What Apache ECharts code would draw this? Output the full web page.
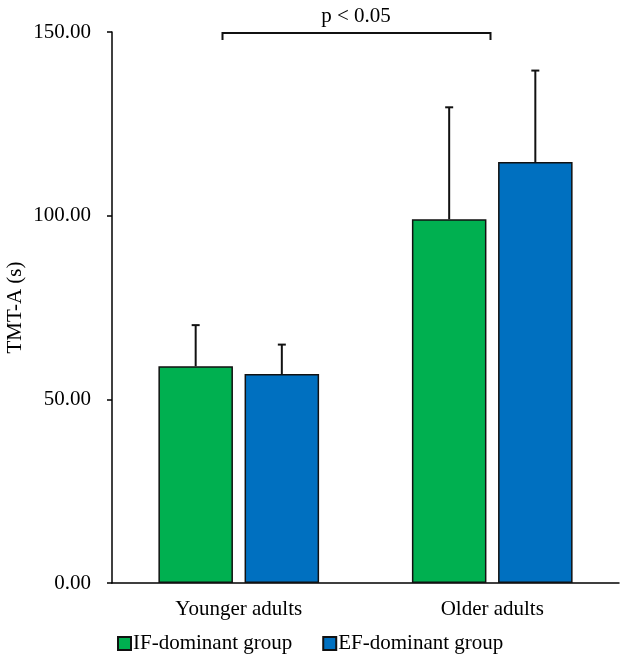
<!DOCTYPE html>
<html>
<head>
<meta charset="utf-8">
<script src="https://cdn.jsdelivr.net/npm/echarts@6/dist/echarts.min.js"></script>
<style>
  html, body { margin: 0; padding: 0; background: #fff; }
  #chart { width: 624px; height: 661px; }
</style>
</head>
<body>
<div id="chart"></div>
<script>
var categories = ['Younger adults', 'Older adults'];
var groupNames = ['IF-dominant group', 'EF-dominant group'];
var ifMeans = [59.0, 99.0];
var ifSD = [11.2, 30.5];
var efMeans = [56.9, 114.6];
var efSD = [8.0, 24.9];
var yTicks = [0, 50, 100, 150];

var fontFamily = '"Liberation Serif", "Times New Roman", serif';
var BAR_W = 0.294, BAR_GAP = 0.156;

// error bar drawn above each bar, shifted to its bar in the group
function errorSeries(means, sds, side) {
  return {
    type: 'custom',
    silent: true,
    z: 5,
    data: means.map(function (m, i) { return [i, m, m + sds[i]]; }),
    renderItem: function (params, api) {
      var band = api.size([1, 0])[0];
      var shift = side * band * (BAR_W / 2 + BAR_W * BAR_GAP / 2);
      var lo = api.coord([api.value(0), api.value(1)]);
      var hi = api.coord([api.value(0), api.value(2)]);
      var x = lo[0] + shift;
      var st = { stroke: '#111', lineWidth: 2 };
      return {
        type: 'group',
        children: [
          { type: 'line', shape: { x1: x, y1: lo[1], x2: x, y2: hi[1] }, style: st },
          { type: 'line', shape: { x1: x - 4, y1: hi[1], x2: x + 4, y2: hi[1] }, style: st }
        ]
      };
    }
  };
}

var chart = echarts.init(document.getElementById('chart'));
chart.setOption({
  animation: false,
  textStyle: { fontFamily: fontFamily },
  grid: { left: 112, right: 5, top: 32, bottom: 78, containLabel: false, outerBoundsMode: 'none' },
  legend: {
    bottom: 2,
    left: 112,
    icon: 'rect',
    itemWidth: 13,
    itemHeight: 13,
    itemGap: 30,
    textStyle: { fontFamily: fontFamily, fontSize: 21, color: '#000', padding: [0, 0, 0, -3] },
    data: groupNames
  },
  xAxis: {
    type: 'category',
    data: categories,
    axisLine: { lineStyle: { color: '#000', width: 1.5 } },
    axisTick: { show: false },
    axisLabel: { fontFamily: fontFamily, fontSize: 21, color: '#000', margin: 16 }
  },
  yAxis: {
    type: 'value',
    min: yTicks[0],
    max: yTicks[yTicks.length - 1],
    interval: 50,
    name: 'TMT-A (s)',
    nameLocation: 'middle',
    nameMoveOverlap: false,
    nameGap: 86,
    nameTextStyle: { fontFamily: fontFamily, fontSize: 21, color: '#000' },
    axisLine: { show: true, lineStyle: { color: '#000', width: 1.5 } },
    axisTick: { show: true, length: 5, lineStyle: { color: '#000', width: 1.5 } },
    splitLine: { show: false },
    axisLabel: {
      fontFamily: fontFamily, fontSize: 21, color: '#000', margin: 21,
      formatter: function (v) { return v.toFixed(2); }
    }
  },
  series: [
    {
      name: groupNames[0], type: 'bar', data: ifMeans,
      barWidth: (BAR_W * 100) + '%', barGap: (BAR_GAP * 100) + '%',
      itemStyle: { color: '#00B050', borderColor: '#111', borderWidth: 1.5 }
    },
    {
      name: groupNames[1], type: 'bar', data: efMeans,
      barWidth: (BAR_W * 100) + '%', barGap: (BAR_GAP * 100) + '%',
      itemStyle: { color: '#0070C0', borderColor: '#111', borderWidth: 1.5 }
    },
    errorSeries(ifMeans, ifSD, -1),
    errorSeries(efMeans, efSD, 1)
  ],
  graphic: [
    {
      type: 'polyline',
      shape: { points: [[222.5, 40], [222.5, 33], [490.5, 33], [490.5, 40]] },
      style: { stroke: '#111', lineWidth: 2, fill: null }
    },
    {
      type: 'text',
      x: 356, y: 16,
      style: { text: 'p < 0.05', font: '21px ' + fontFamily, fill: '#000', textAlign: 'center', textVerticalAlign: 'middle' }
    }
  ]
});
</script>
</body>
</html>
